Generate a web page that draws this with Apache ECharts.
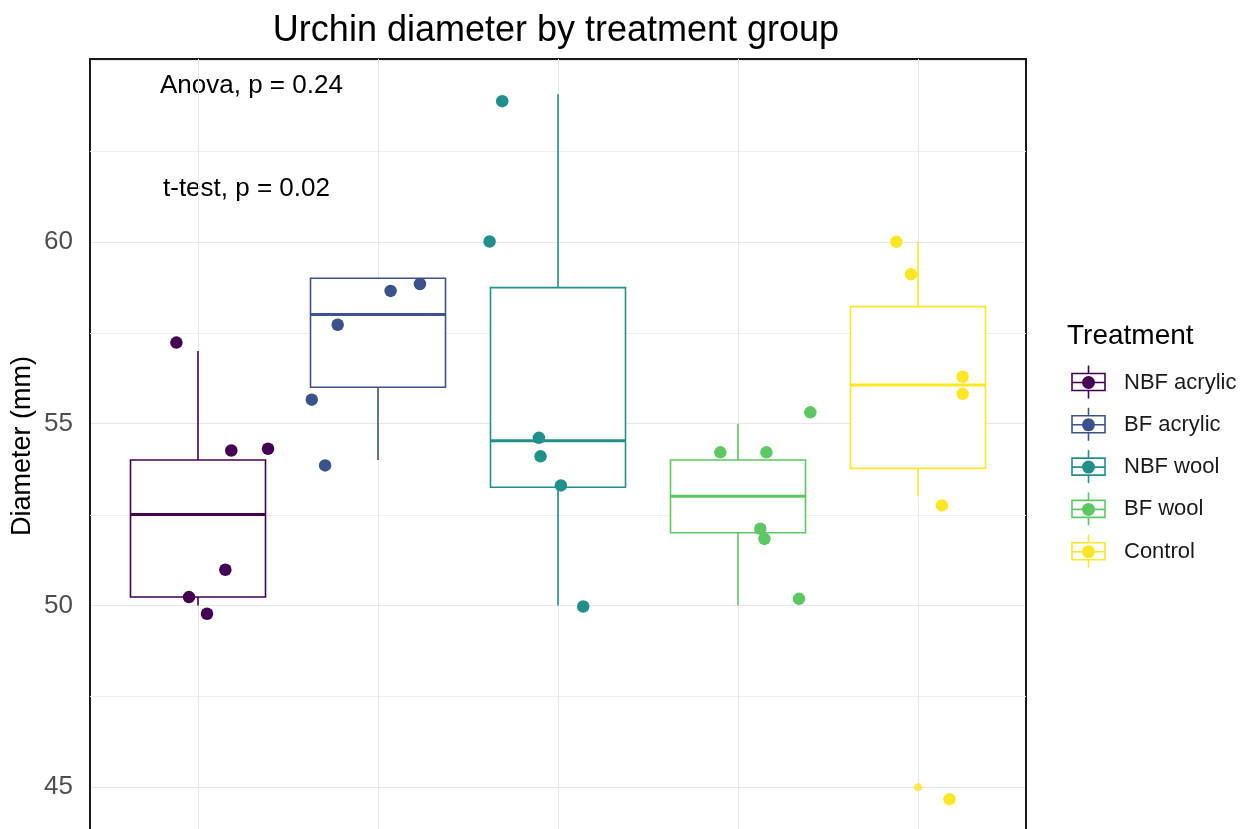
<!DOCTYPE html>
<html>
<head>
<meta charset="utf-8">
<title>Urchin diameter by treatment group</title>
<script src="https://cdn.jsdelivr.net/npm/echarts@6/dist/echarts.min.js"></script>
<style>
  html, body { margin: 0; padding: 0; background: #ffffff; }
  #chart { width: 1245px; height: 829px; }
</style>
</head>
<body>
<div id="chart"></div>
<script>
// Treatment groups and their viridis colours
const categories = ['NBF acrylic', 'BF acrylic', 'NBF wool', 'BF wool', 'Control'];
const groupColors = ['#440154', '#3B528B', '#21908C', '#5DC863', '#FDE725'];

// Box-plot summary per group (mm)
const whiskerLow  = [50.0, 54.0, 50.0, 50.0, 53.0];
const q1          = [50.23, 56.0, 53.25, 52.0, 53.77];
const median      = [52.5, 58.0, 54.53, 53.0, 56.06];
const q3          = [54.0, 59.0, 58.74, 54.0, 58.22];
const whiskerHigh = [57.0, 59.0, 64.06, 55.0, 60.0];

// Box-plot outliers: group index and value
const outlierGroup = [4];
const outlierValue = [45.0];

// Jittered individual measurements: horizontal position (group units) and diameter
const jitterPos = [
  [0.88, 1.185, 1.389, 1.152, 0.95, 1.05],
  [1.776, 2.07, 2.233, 1.632, 1.706],
  [2.69, 2.62, 2.894, 2.903, 3.016, 3.14],
  [3.902, 4.158, 4.402, 4.124, 4.147, 4.339],
  [4.88, 4.961, 5.248, 5.248, 5.133, 5.175]
];
const jitterVal = [
  [57.23, 54.26, 54.31, 50.98, 50.23, 49.77],
  [57.72, 58.65, 58.84, 55.66, 53.85],
  [63.87, 60.01, 54.61, 54.10, 53.30, 49.97],
  [54.21, 54.21, 55.31, 52.11, 51.83, 50.18],
  [60.0, 59.11, 56.29, 55.82, 52.75, 44.67]
];

// Y-axis tick labels that are printed, and the minor grid values between them
const yTickLabels = [45, 50, 55, 60];
const yMinorGrid = [47.5, 52.5, 57.5, 62.5];

// Visible y range of the panel
const yMin = 43.85, yMax = 65.03;

const FONT = '"Liberation Sans", Arial, sans-serif';
const chart = echarts.init(document.getElementById('chart'), null, { renderer: 'canvas' });

const boxData = categories.map((c, i) => [i + 1, whiskerLow[i], q1[i], median[i], q3[i], whiskerHigh[i]]);
const halfBox = 0.375;

function renderBox(params, api) {
  const i = params.dataIndex;
  const x = api.value(0);
  const color = groupColors[i];
  const pLow = api.coord([x, api.value(1)]);
  const pQ1 = api.coord([x, api.value(2)]);
  const pMed = api.coord([x, api.value(3)]);
  const pQ3 = api.coord([x, api.value(4)]);
  const pHigh = api.coord([x, api.value(5)]);
  const left = api.coord([x - halfBox, api.value(2)])[0];
  const right = api.coord([x + halfBox, api.value(2)])[0];
  const line = { stroke: color, lineWidth: 1.6, fill: null };
  return {
    type: 'group',
    children: [
      { type: 'line', shape: { x1: pQ3[0], y1: pQ3[1], x2: pHigh[0], y2: pHigh[1] }, style: line },
      { type: 'line', shape: { x1: pQ1[0], y1: pQ1[1], x2: pLow[0], y2: pLow[1] }, style: line },
      { type: 'rect', shape: { x: left, y: pQ3[1], width: right - left, height: pQ1[1] - pQ3[1] },
        style: { stroke: color, lineWidth: 1.6, fill: '#ffffff' } },
      { type: 'line', shape: { x1: left, y1: pMed[1], x2: right, y2: pMed[1] },
        style: { stroke: color, lineWidth: 3, fill: null } }
    ]
  };
}

// Vertical grid lines at each group position
function renderVGrid(params, api) {
  const x = api.value(0);
  const top = api.coord([x, yMax])[1];
  const bottom = api.coord([x, yMin])[1];
  const px = Math.round(api.coord([x, 60])[0]) + 0.5;
  return { type: 'line', shape: { x1: px, y1: top, x2: px, y2: bottom },
    style: { stroke: '#e6e6e6', lineWidth: 1 } };
}

// Minor horizontal grid lines
function renderHMinor(params, api) {
  const v = api.value(0);
  const l = api.coord([0.4, v]);
  const r = api.coord([5.6, v]);
  const py = Math.round(l[1]) + 0.5;
  return { type: 'line', shape: { x1: l[0], y1: py, x2: r[0], y2: py },
    style: { stroke: '#eeeeee', lineWidth: 1 } };
}

const pointSeries = categories.map((c, i) => ({
  type: 'scatter',
  name: c,
  data: jitterPos[i].map((p, k) => [p, jitterVal[i][k]]),
  symbol: 'circle',
  symbolSize: 12.5,
  itemStyle: { color: groupColors[i], opacity: 1 },
  silent: true,
  z: 5
}));

const outlierSeries = {
  type: 'scatter',
  data: outlierGroup.map((g, k) => [g + 1, outlierValue[k]]),
  symbolSize: 8,
  itemStyle: { color: (p) => groupColors[outlierGroup[p.dataIndex]] },
  silent: true,
  z: 4
};

// Legend keys: a miniature box with a point, one per group
const legendX = 1072, legendW = 33, legendY0 = 382.5, legendStep = 42.3;
const legendGraphics = [];
categories.forEach((c, i) => {
  const cy = legendY0 + legendStep * i;
  const col = groupColors[i];
  const cx = legendX + legendW / 2;
  legendGraphics.push(
    { type: 'line', shape: { x1: cx, y1: cy - 17, x2: cx, y2: cy - 9 }, style: { stroke: col, lineWidth: 1.6 } },
    { type: 'line', shape: { x1: cx, y1: cy + 8, x2: cx, y2: cy + 16 }, style: { stroke: col, lineWidth: 1.6 } },
    { type: 'rect', shape: { x: legendX, y: cy - 9, width: legendW, height: 17 }, style: { stroke: col, lineWidth: 1.6, fill: '#ffffff' } },
    { type: 'line', shape: { x1: legendX, y1: cy, x2: legendX + legendW, y2: cy }, style: { stroke: col, lineWidth: 1.6 } },
    { type: 'circle', shape: { cx: cx, cy: cy, r: 6.5 }, style: { fill: col } },
    { type: 'text', x: 1124, y: cy, style: { text: c, font: '22px ' + FONT, fill: '#1a1a1a', textVerticalAlign: 'middle', verticalAlign: 'middle' } }
  );
});

const frameLine = { show: true, onZero: false, lineStyle: { color: '#1a1a1a', width: 2 } };

const option = {
  backgroundColor: '#ffffff',
  animation: false,
  grid: { left: 90, top: 59, right: 219, bottom: 0, show: false },
  xAxis: {
    type: 'value', min: 0.4, max: 5.6, position: 'top',
    axisLine: frameLine, axisTick: { show: false }, axisLabel: { show: false },
    splitLine: { show: false }
  },
  yAxis: [
    {
      type: 'value', min: yMin, max: yMax, position: 'left',
      axisLine: frameLine, axisTick: { show: false },
      axisLabel: {
        color: '#4d4d4d', fontSize: 26, fontFamily: FONT, margin: 17,
        formatter: (v) => (yTickLabels.indexOf(v) >= 0 ? String(v) : '')
      },
      splitLine: { show: true, lineStyle: { color: '#e6e6e6', width: 1 } }
    },
    {
      type: 'value', min: yMin, max: yMax, position: 'right',
      axisLine: frameLine, axisTick: { show: false }, axisLabel: { show: false },
      splitLine: { show: false }
    }
  ],
  series: [
    { type: 'custom', data: yMinorGrid.map((v) => [v]), renderItem: renderHMinor, silent: true, z: 1 },
    { type: 'custom', data: categories.map((c, i) => [i + 1]), renderItem: renderVGrid, silent: true, z: 1 },
    { type: 'custom', data: boxData, renderItem: renderBox, silent: true, z: 3 },
    outlierSeries,
    ...pointSeries
  ],
  graphic: [
    { type: 'text', x: 556, y: 31, style: { text: 'Urchin diameter by treatment group', font: '36px ' + FONT, fill: '#000000', textAlign: 'center', textVerticalAlign: 'middle', align: 'center', verticalAlign: 'middle' } },
    { type: 'text', x: 23, y: 446, rotation: Math.PI / 2, style: { text: 'Diameter (mm)', font: '27px ' + FONT, fill: '#000000', textAlign: 'center', textVerticalAlign: 'middle', align: 'center', verticalAlign: 'middle' } },
    { type: 'text', x: 160, y: 86, style: { text: 'Anova, p = 0.24', font: '26px ' + FONT, fill: '#000000', textVerticalAlign: 'middle', verticalAlign: 'middle' } },
    { type: 'text', x: 163, y: 189, style: { text: 't-test, p = 0.02', font: '26px ' + FONT, fill: '#000000', textVerticalAlign: 'middle', verticalAlign: 'middle' } },
    { type: 'text', x: 1067, y: 336, style: { text: 'Treatment', font: '28px ' + FONT, fill: '#000000', textVerticalAlign: 'middle', verticalAlign: 'middle' } },
    ...legendGraphics
  ]
};

chart.setOption(option);
</script>
</body>
</html>
